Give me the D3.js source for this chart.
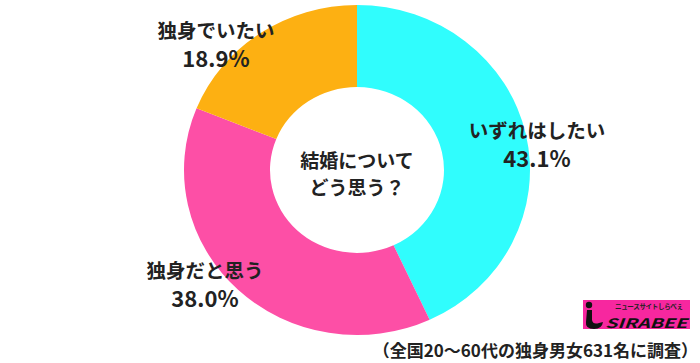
<!DOCTYPE html>
<html>
<head>
<meta charset="utf-8">
<script src="https://cdn.jsdelivr.net/npm/d3@7"></script>
<style>
  html, body { margin: 0; padding: 0; background: #fff; }
  svg { display: block; }
  text { font-family: "Noto Sans CJK JP", "Noto Sans", sans-serif; font-weight: 700; fill: #222; }
</style>
</head>
<body>
<div id="chart"></div>
<script>
// data
var categories = ["いずれはしたい", "独身だと思う", "独身でいたい"];
var values = [43.1, 38.0, 18.9];
var colors = ["#30fdfd", "#fd4fa6", "#fdb012"];
var centerLines = ["結婚について", "どう思う？"];
var footnote = "（全国20〜60代の独身男女631名に調査）";

(function () {
	var width = 700, height = 363;
	var cx = 357, cy = 170,
		rOuter = 173, rInner = 87,
		squash = 165 / 173;

	// where each label pair sits (layout only)
	var labelPos = [[537, 138], [205, 278], [216, 38]];

	var svg = d3.select("#chart").append("svg")
		.attr("width", width)
		.attr("height", height);

	var pie = d3.pie().sort(null).value(function (d) { return d; });
	var arc = d3.arc().innerRadius(rInner).outerRadius(rOuter);

	var g = svg.append("g")
		.attr("transform", "translate(" + cx + "," + cy + ") scale(1," + squash + ")");

	g.selectAll(".slice").data(pie(values))
		.enter().append("path").attr("class", "slice")
			.attr("d", arc)
			.attr("fill", function (d, i) { return colors[i]; });

	// center question
	svg.selectAll(".center").data(centerLines)
		.enter().append("text").attr("class", "center")
			.attr("x", cx)
			.attr("y", function (d, i) { return 168 + i * 27; })
			.attr("text-anchor", "middle")
			.attr("font-size", 19)
			.text(function (d) { return d; });

	// slice labels
	var lab = svg.selectAll(".lab").data(categories)
		.enter().append("g").attr("class", "lab")
			.attr("transform", function (d, i) { return "translate(" + labelPos[i][0] + "," + labelPos[i][1] + ")"; });
	lab.append("text")
		.attr("text-anchor", "middle")
		.attr("font-size", 19.5)
		.text(function (d) { return d; });
	lab.append("text")
		.attr("text-anchor", "middle")
		.attr("y", 29)
		.attr("font-size", 22)
		.attr("font-weight", 500)
		.text(function (d, i) { return values[i].toFixed(1) + "%"; });

	// footnote
	svg.append("text")
		.attr("x", 698).attr("y", 357)
		.attr("text-anchor", "end")
		.attr("font-size", 17)
		.text(footnote);

	// logo
	var logo = svg.append("g").attr("transform", "translate(583,300)");
	logo.append("rect").attr("width", 107).attr("height", 29).attr("fill", "#f7279f");
	logo.append("circle").attr("cx", 6).attr("cy", 5).attr("r", 3.2).attr("fill", "#111");
	logo.append("path")
		.attr("d", "M4,10 L9,10 L9,20 Q10,25 16,23 L20,22 Q19,29 11,29 Q2,29 3,22 Z")
		.attr("fill", "#111");
	logo.append("text")
		.attr("x", 32).attr("y", 9)
		.attr("font-size", 6.5)
		.attr("font-weight", 700)
		.attr("textLength", 68)
		.text("ニュースサイトしらべぇ");
	logo.append("text")
		.attr("x", 22).attr("y", 28)
		.attr("font-size", 13)
		.attr("font-weight", 900)
		.attr("font-style", "italic")
		.attr("font-family", "'Liberation Sans', Arial, sans-serif")
		.attr("textLength", 82)
		.attr("lengthAdjust", "spacingAndGlyphs")
		.style("fill", "#111")
		.text("SIRABEE");
})();
</script>
</body>
</html>
